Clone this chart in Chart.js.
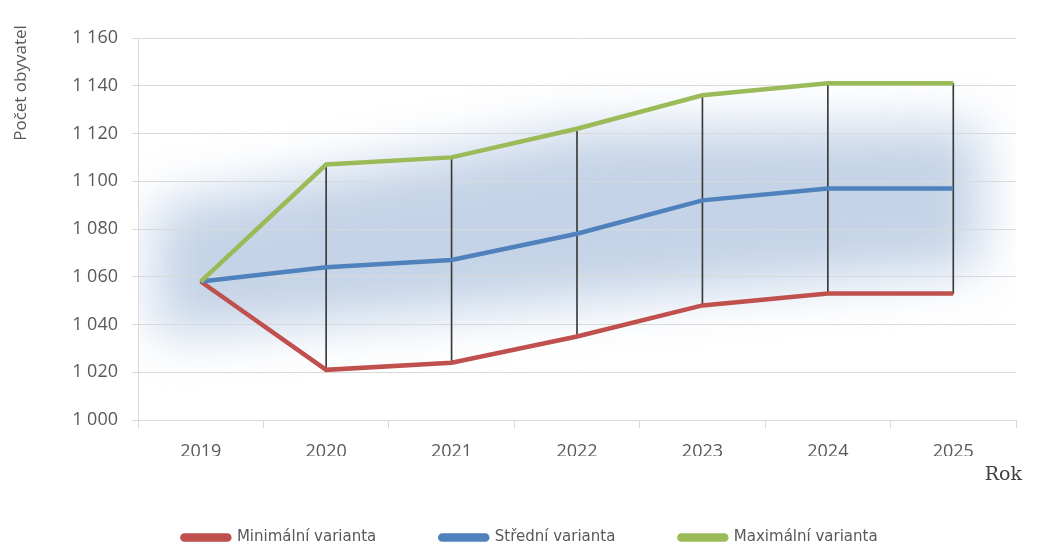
<!DOCTYPE html>
<html>
<head>
<meta charset="utf-8">
<script src="https://cdn.jsdelivr.net/npm/chart.js@4/dist/chart.umd.min.js"></script>
<style>
  html, body { margin: 0; padding: 0; background: #fff; }
  #wrap { width: 1038px; height: 545px; }
</style>
</head>
<body>
<div id="wrap"><canvas id="chart"></canvas></div>
<script>
// data
const years = ['2019', '2020', '2021', '2022', '2023', '2024', '2025'];
const minVariant = [1058, 1021, 1024, 1035, 1048, 1053, 1053];
const midVariant = [1058, 1064, 1067, 1078, 1092, 1097, 1097];
const maxVariant = [1058, 1107, 1110, 1122, 1136, 1141, 1141];
const seriesNames = ['Minimální varianta', 'Střední varianta', 'Maximální varianta'];
const yMin = 1000, yMax = 1160, yStep = 20;
const yTitle = 'Počet obyvatel';
const xTitle = 'Rok';

// rozsah min-max jako svislé čáry
const ranges = years.map((y, i) => [minVariant[i], maxVariant[i]]);

function formatNum(v) {
    const th = Math.floor(v / 1000);
    const rest = String(v % 1000).padStart(3, '0');
    return th > 0 ? th + ' ' + rest : String(v);
}

// modrá mlha v pozadí plochy grafu
const glowPlugin = {
    id: 'glow',
    beforeDraw(chart) {
        const a = chart.chartArea;
        const ctx = chart.ctx;
        const w = a.right - a.left, h = a.bottom - a.top;
        const px = f => a.left + f * w;
        const py = f => a.top + f * h;
        ctx.save();
        ctx.beginPath();
        ctx.rect(a.left, a.top, w, h);
        ctx.clip();
        ctx.filter = 'blur(26px)';
        ctx.fillStyle = 'rgb(196, 211, 231)';
        ctx.beginPath();
        ctx.moveTo(px(0.02), py(0.44));
        ctx.lineTo(px(0.50), py(0.24));
        ctx.lineTo(px(0.96), py(0.23));
        ctx.lineTo(px(0.96), py(0.60));
        ctx.lineTo(px(0.50), py(0.69));
        ctx.lineTo(px(0.02), py(0.78));
        ctx.closePath();
        ctx.fill();
        ctx.restore();
    }
};

// popisky os + posun legendy
const titlesPlugin = {
    id: 'titles',
    afterLayout(chart) {
        const lg = chart.legend;
        const shift = 466 - lg.top;
        lg.top += shift;
        lg.bottom += shift;
        lg.left += 22;
        lg.right += 22;
    },
    afterDraw(chart) {
        const ctx = chart.ctx;
        ctx.save();
        ctx.translate(21, 83);
        ctx.rotate(-Math.PI / 2);
        ctx.font = '17px "Open Sans"';
        ctx.fillStyle = '#595959';
        ctx.textAlign = 'center';
        ctx.textBaseline = 'middle';
        ctx.fillText(yTitle, 0, 0);
        ctx.restore();

        ctx.save();
        ctx.font = '19px "DejaVu Serif"';
        ctx.fillStyle = '#404040';
        ctx.textAlign = 'right';
        ctx.textBaseline = 'middle';
        ctx.fillText(xTitle, 1022, 475);
        ctx.restore();
    }
};

const ctx = document.getElementById('chart').getContext('2d');
new Chart(ctx, {
    type: 'line',
    data: {
        labels: years,
        datasets: [
            {
                label: seriesNames[0],
                data: minVariant,
                borderColor: '#c0504d',
                backgroundColor: '#c0504d',
                borderWidth: 4.5,
                pointRadius: 0,
                tension: 0,
                order: 3
            },
            {
                label: seriesNames[1],
                data: midVariant,
                borderColor: '#4f81bd',
                backgroundColor: '#4f81bd',
                borderWidth: 4.5,
                pointRadius: 0,
                tension: 0,
                order: 2
            },
            {
                label: seriesNames[2],
                data: maxVariant,
                borderColor: '#9bbb59',
                backgroundColor: '#9bbb59',
                borderWidth: 4.5,
                pointRadius: 0,
                tension: 0,
                order: 1
            },
            {
                type: 'bar',
                label: 'range',
                data: ranges,
                backgroundColor: '#3a3a3a',
                barThickness: 1,
                borderWidth: 0,
                order: 10
            }
        ]
    },
    options: {
        responsive: true,
        maintainAspectRatio: false,
        animation: false,
        layout: { padding: { top: 38, right: 22, left: 0, bottom: 0 } },
        plugins: {
            tooltip: { enabled: false },
            legend: {
                position: 'bottom',
                labels: {
                    filter: item => item.text !== 'range',
                    sort: (a, b) => a.datasetIndex - b.datasetIndex,
                    boxWidth: 47,
                    boxHeight: 4,
                    useBorderRadius: true,
                    borderRadius: 2,
                    padding: 64,
                    color: '#595959',
                    font: { family: '"DejaVu Sans"', size: 15 }
                }
            }
        },
        scales: {
            x: {
                offset: true,
                grid: {
                    offset: true,
                    drawOnChartArea: false,
                    drawTicks: true,
                    tickLength: 8,
                    color: '#d9d9d9'
                },
                border: { color: '#d9d9d9' },
                ticks: {
                    padding: 13,
                    color: '#595959',
                    font: { family: '"Open Sans"', size: 18 }
                },
                afterFit: s => { s.height = 36; }
            },
            y: {
                min: yMin,
                max: yMax,
                grid: { color: '#d9d9d9', tickLength: 6 },
                border: { color: '#d9d9d9' },
                ticks: {
                    stepSize: yStep,
                    padding: 14,
                    color: '#595959',
                    font: { family: '"Open Sans"', size: 18 },
                    callback: v => formatNum(v)
                },
                afterFit: s => { s.width = 138; }
            }
        }
    },
    plugins: [glowPlugin, titlesPlugin]
});
</script>
</body>
</html>
